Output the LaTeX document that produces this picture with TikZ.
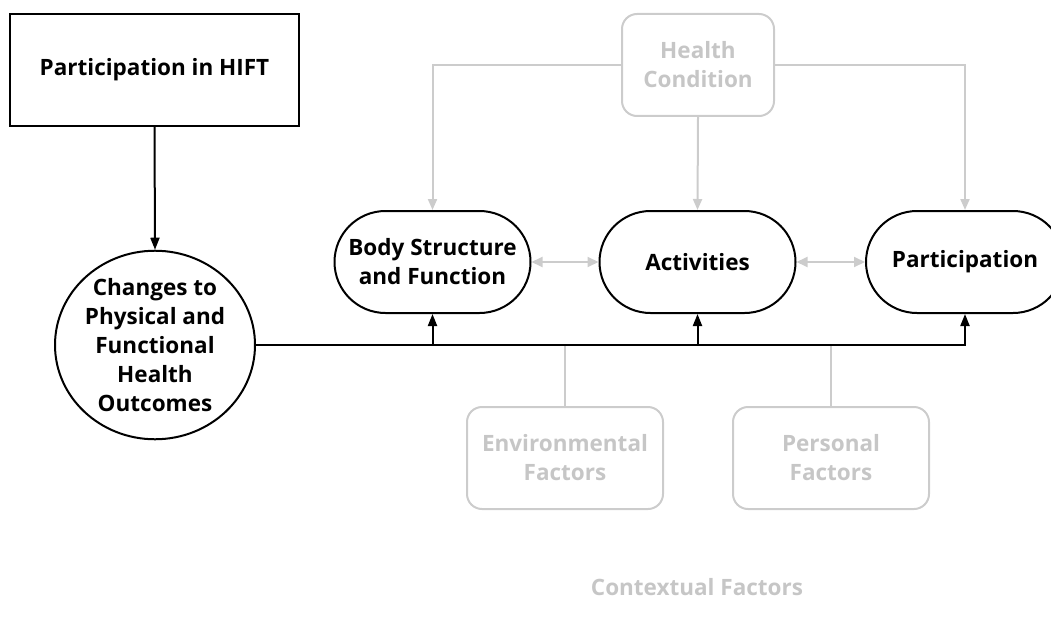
\documentclass[tikz,border=0pt]{standalone}
\usepackage{fontspec}
\setmainfont{Open Sans}
\usetikzlibrary{arrows.meta,shapes.misc,shapes.geometric}
\definecolor{lg}{HTML}{CCCCCC}
\definecolor{lgt}{HTML}{C6C6C6}
\begin{document}
\begin{tikzpicture}[x=1pt,y=-1pt,
 every node/.style={font=\bfseries\fontsize{22.5}{29}\selectfont, align=center, inner sep=0pt},
 blk/.style={draw=black, line width=2pt},
 pill/.style={blk, rounded rectangle, minimum width=196pt, minimum height=102pt},
 gbox/.style={draw=lg, line width=2pt, rounded corners=15pt, text=lgt},
 barrow/.style={draw=black, line width=2pt, -{Triangle[length=12pt,width=9pt]}},
 garrow/.style={draw=lg, line width=2pt, -{Triangle[length=11pt,width=9pt]}},
 gdarrow/.style={draw=lg, line width=2pt, {Triangle[length=11pt,width=10pt]}-{Triangle[length=11pt,width=10pt]}},
 gline/.style={draw=lg, line width=2pt},
]
\useasboundingbox (0,0) rectangle (1051,623);
\clip (0,0) rectangle (1051,623);

\node[blk, minimum width=289pt, minimum height=112pt] (hift) at (154.5,70) {Participation in HIFT};
\node[blk, ellipse, minimum width=200pt, minimum height=178pt] (chg) at (155,345) {Changes to\\Physical and\\Functional\\Health\\Outcomes};

\node[pill] (body) at (432.5,262) {Body Structure\\and Function};
\node[pill] (act) at (697.5,262) {Activities};
\node[pill, minimum width=198pt] (part) at (965,262) {Participation};

\node[gbox, minimum width=152pt, minimum height=102pt] (hc) at (698,65) {Health\\Condition};
\node[gbox, minimum width=196pt, minimum height=102pt] (env) at (565,458) {Environmental\\Factors};
\node[gbox, minimum width=196pt, minimum height=102pt] (pers) at (831,458) {Personal\\Factors};
\node[text=lgt] (ctx) at (697,587) {Contextual Factors};

\draw[garrow] (hc.west) -| (body.north);
\draw[garrow] (hc.south) -- (act.north);
\draw[garrow] (hc.east) -| (part.north);
\draw[gdarrow] (body.east) -- (act.west);
\draw[gdarrow] (act.east) -- (part.west);
\draw[gline] (env.north) -- (env.north |- chg.east);
\draw[gline] (pers.north) -- (pers.north |- chg.east);

\draw[barrow] (hift.south) -- (chg.north);
\draw[barrow] (chg.east) -| (part.south);
\draw[barrow] (chg.east -| body.south) -- (body.south);
\draw[barrow] (chg.east -| act.south) -- (act.south);
\end{tikzpicture}
\end{document}
